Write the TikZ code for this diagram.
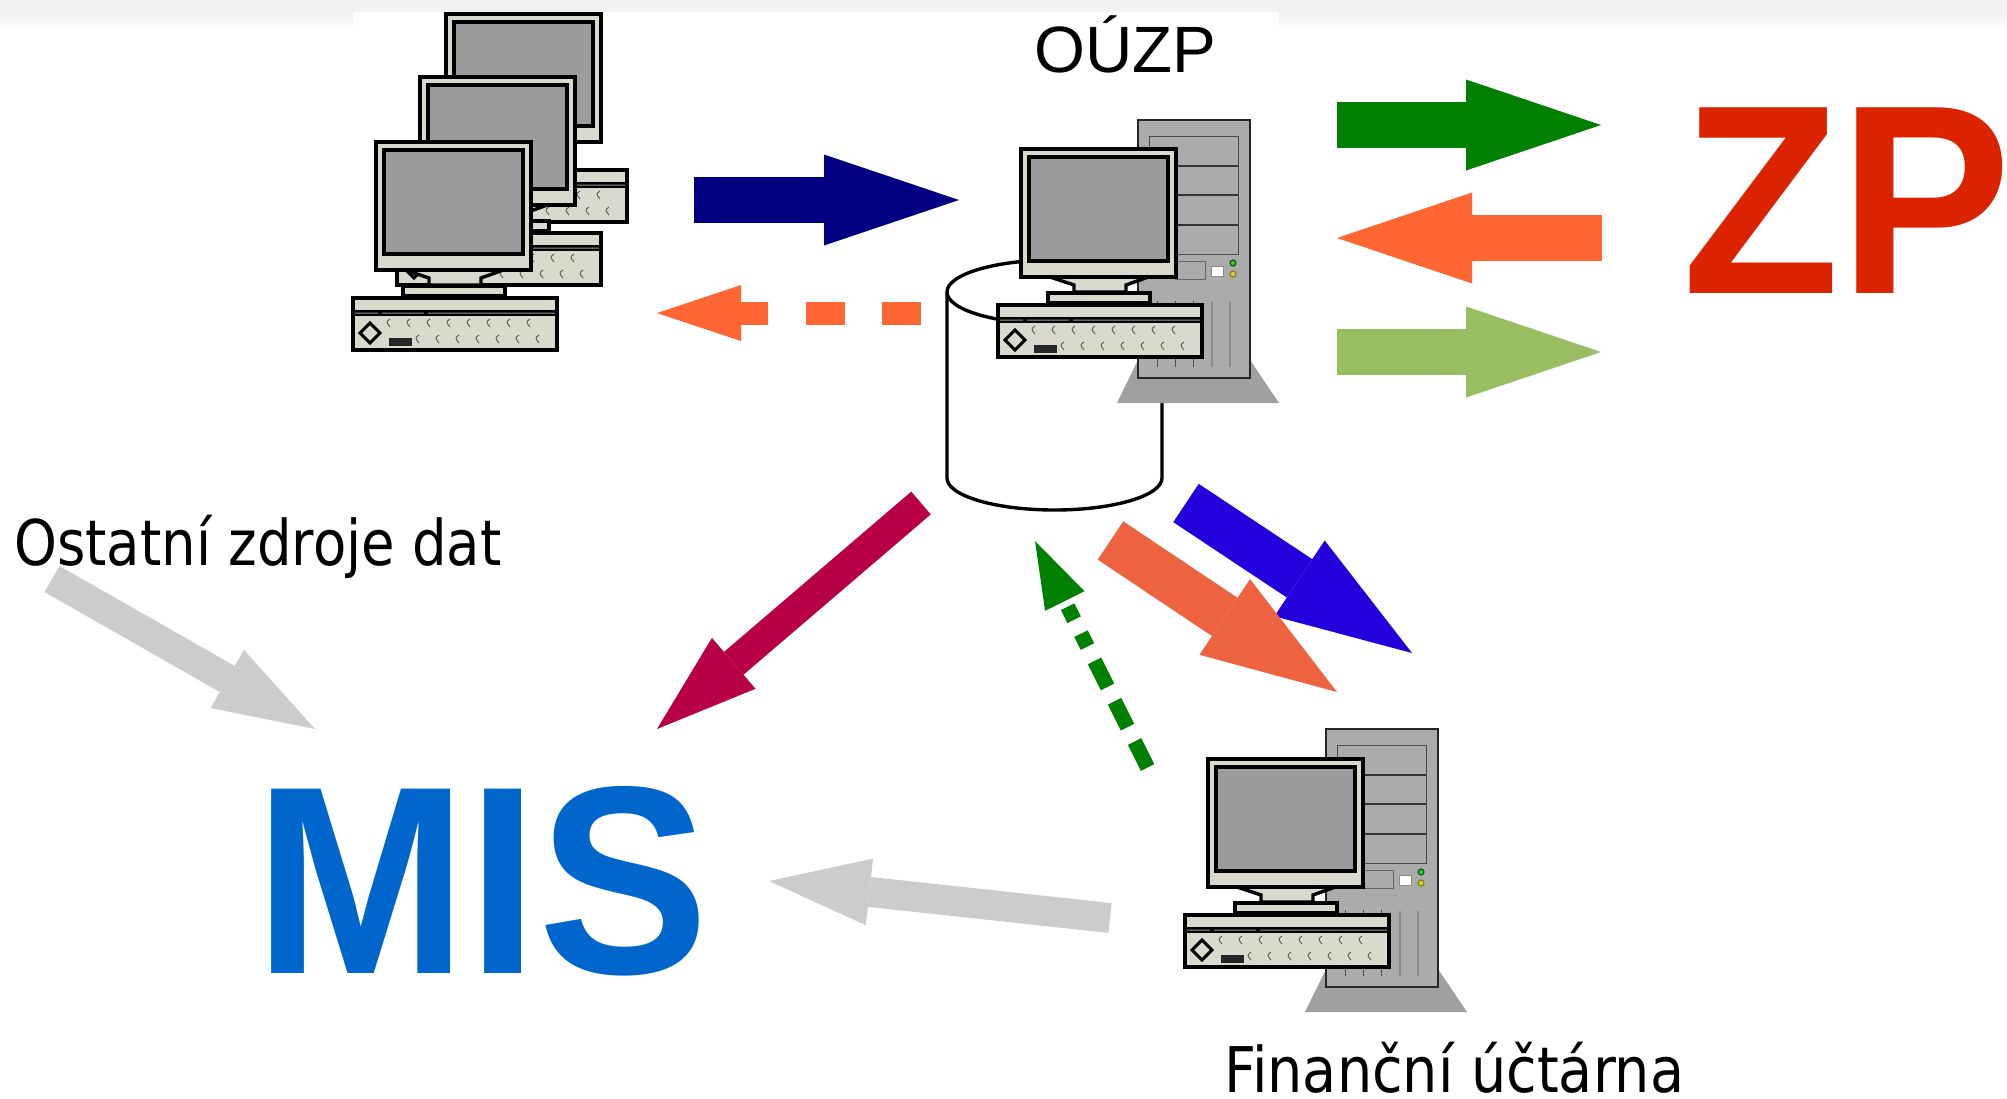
\documentclass[tikz,border=0pt]{standalone}
\usepackage{fontspec}
\usetikzlibrary{arrows.meta}
\newfontfamily\ouzpfont{Liberation Sans}
\newfontfamily\labelAfont[FakeStretch=0.865]{DejaVu Sans}
\newfontfamily\labelBfont[FakeStretch=0.883]{DejaVu Sans}
\newfontfamily\bigfont[FakeStretch=0.955]{Liberation Sans}
\definecolor{bezel}{HTML}{D9D9CE}
\definecolor{screen}{HTML}{9C9C9C}
\definecolor{towerc}{HTML}{ABABAB}
\definecolor{basec}{HTML}{A0A0A0}
\definecolor{navyc}{HTML}{000080}
\definecolor{orangec}{HTML}{FF6633}
\definecolor{greenc}{HTML}{008000}
\definecolor{lgreenc}{HTML}{97BE61}
\definecolor{blueC}{HTML}{2300DC}
\definecolor{brickc}{HTML}{ED633F}
\definecolor{crimsonc}{HTML}{B80047}
\definecolor{greyc}{HTML}{CCCCCC}
\definecolor{zpc}{HTML}{DC2300}
\definecolor{misc}{HTML}{0066CC}
\definecolor{bandc}{HTML}{F2F2F2}
\tikzset{
  pcline/.style={draw=black,line width=3.4pt,line join=miter},
  bigarrow/.style={line width=46pt,-{Triangle[length=135pt,width=91pt,line width=0pt]}},
  midarrow/.style={line width=30pt,-{Triangle[length=101pt,width=67pt,line width=0pt]}},
  dasharrowA/.style={line width=23pt,dash pattern=on 39pt off 37.5pt,-{Triangle[length=84pt,width=56pt,line width=0pt]}},
  dasharrowB/.style={line width=15pt,dash pattern=on 29pt off 16pt on 29pt off 16pt on 29pt off 16pt on 14.5pt off 15.5pt on 14.5pt off 100pt,-{Triangle[length=67pt,width=44pt,line width=0pt]}},
  pics/pcunit/.style={code={
    \filldraw[pcline,fill=bezel] (49,-29) -- (153,-29) -- (128,-20) -- (128,-13) -- (76,-13) -- (76,-20) -- cycle;
    \filldraw[pcline,fill=bezel] (50,-12) rectangle (152,-2);
    \filldraw[pcline,fill=bezel] (23,-156) rectangle (178,-28);
    \filldraw[pcline,fill=screen] (31,-148) rectangle (170,-44);
    \filldraw[pcline,fill=bezel] (0,0) rectangle (204,52);
    \fill[black] (0,12) rectangle (204,18);
    \fill[bezel!70!black] (2,14.5) rectangle (25,15.5) (29,14.5) rectangle (71,15.5) (75,14.5) rectangle (202,15.5);
    \filldraw[line width=3pt,draw=black,fill=bezel] (17,25) -- (27,35) -- (17,45) -- (7,35) -- cycle;
    \fill[black!85] (36,39.5) rectangle (59,48);
    \foreach \mx in {35,55,75,95,115,135,155,175}
      \draw[black!65,line width=0.9pt] (\mx+2,21) .. controls (\mx-2,24) .. (\mx+2,29);
    \foreach \mx in {64,84,104,124,144,164,184}
      \draw[black!65,line width=0.9pt] (\mx+2,37) .. controls (\mx-2,40) .. (\mx+2,45);
  }},
  pics/towerunit/.style={code={
    \fill[basec] (0,240) -- (112,240) -- (141,283) -- (-21,283) -- cycle;
    \filldraw[draw=black!85,line width=2.4pt,fill=towerc] (0,0) rectangle (112,258);
    \draw[black!70,line width=1pt] (11,16) rectangle (100,134);
    \draw[black!80,line width=1.2pt] (11,46) -- (100,46) (11,75) -- (100,75) (11,105) -- (100,105);
    \draw[black!60,line width=1pt] (37,141) rectangle (67,159);
    \fill[white] (74,147) rectangle (85,156);
    \draw[black!45,line width=0.8pt] (73.5,146.5) rectangle (85.5,156.5);
    \filldraw[draw=green!40!black,fill=green!50!gray,line width=1.2pt] (95,143) circle (3pt);
    \filldraw[draw=olive,fill=yellow!60!gray,line width=1.2pt] (95,154) circle (3pt);
    \draw[black!45,line width=1.8pt] (74,182) -- (74,247) (92,182) -- (92,247);
    \draw[black!70,line width=1pt] (19,181) -- (19,247) (37,181) -- (37,247) (55,181) -- (55,247);
  }}
}
\begin{document}
\begin{tikzpicture}[x=1pt,y=-1pt]
\useasboundingbox (0,0) rectangle (2007,1098);
\fill[white] (0,0) rectangle (2007,1098);
\shade[top color=bandc,bottom color=white] (0,12) rectangle (2007,30);
\fill[bandc] (0,0) rectangle (2007,12);
\fill[white] (353,12) rectangle (1279,40);

% left workstations
\pic at (423,170) {pcunit};
\pic at (397,233) {pcunit};
\pic at (353,298) {pcunit};

% database cylinder
\filldraw[draw=black,line width=3.4pt,fill=white]
  (947,292) arc[start angle=180,end angle=0,x radius=107.5pt,y radius=32pt]
  -- (1162,478) arc[start angle=0,end angle=-180,x radius=107.5pt,y radius=32pt] -- cycle;
\draw[black,line width=3.4pt] (947,292) arc[start angle=180,end angle=360,x radius=107.5pt,y radius=32pt];

% central workstation
\pic at (1138,120) {towerunit};
\pic at (998,305) {pcunit};

% accounting workstation
\pic at (1326,729) {towerunit};
\pic at (1185,915) {pcunit};

% labels
\node[inner sep=0,anchor=base west,font=\ouzpfont\fontsize{65.5}{65.5}\selectfont] (ouzp) at (1034,72) {OÚZP};
\node[inner sep=0,anchor=base west,font=\labelAfont\fontsize{63}{63}\selectfont] (ostatni) at (14,565) {Ostatní zdroje dat};
\node[inner sep=0,anchor=base west,font=\labelBfont\fontsize{63}{63}\selectfont] (financni) at (1224,1092) {Finanční účtárna};
\node[inner sep=0,anchor=base west,text=zpc,font=\bigfont\bfseries\fontsize{270}{270}\selectfont] (zp) at (1682,293) {ZP};
\node[inner sep=0,anchor=base west,text=misc,font=\bigfont\bfseries\fontsize{268}{268}\selectfont] (mis) at (254,973) {MIS};

% connector end points
\coordinate (navyA) at (694,200);   \coordinate (navyB) at (959,200);
\coordinate (dashA) at (921,313);   \coordinate (dashB) at (657,313);
\coordinate (zgA) at (1337,125);    \coordinate (zgB) at (1601,125);
\coordinate (zoA) at (1602,238);    \coordinate (zoB) at (1337,238);
\coordinate (zlA) at (1337,352);    \coordinate (zlB) at (1601,352);
\coordinate (blA) at (1186,503);    \coordinate (blB) at (1412,653);
\coordinate (brA) at (1110.5,540.5);\coordinate (brB) at (1337,692);
\coordinate (gdA) at (1147.5,767.5);\coordinate (gdB) at (1035,541);
\coordinate (crA) at (921,503);     \coordinate (crB) at (657,729);
\coordinate (oaA) at (52,579);      \coordinate (oaB) at (315,729);
\coordinate (faA) at (1110,918);    \coordinate (faB) at (769,881);

% connectors
\draw[bigarrow,navyc] (navyA) -- (navyB);
\draw[dasharrowA,orangec] (dashA) -- (dashB);
\draw[bigarrow,greenc] (zgA) -- (zgB);
\draw[bigarrow,orangec] (zoA) -- (zoB);
\draw[bigarrow,lgreenc] (zlA) -- (zlB);
\draw[bigarrow,blueC] (blA) -- (blB);
\draw[bigarrow,brickc] (brA) -- (brB);
\draw[dasharrowB,greenc] (gdA) -- (gdB);
\draw[midarrow,crimsonc] (crA) -- (crB);
\draw[midarrow,greyc] (oaA) -- (oaB);
\draw[midarrow,greyc] (faA) -- (faB);
\end{tikzpicture}
\end{document}
